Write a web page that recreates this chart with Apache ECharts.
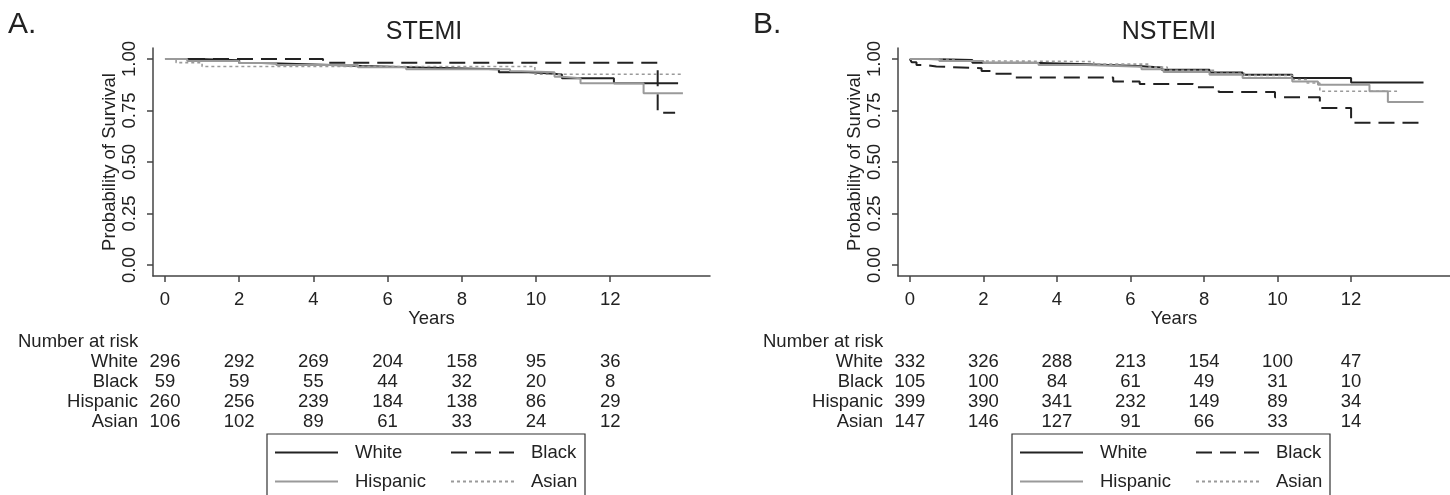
<!DOCTYPE html>
<html>
<head>
<meta charset="utf-8">
<script src="https://cdn.jsdelivr.net/npm/echarts@6/dist/echarts.min.js"></script>
<style>
  html, body { margin: 0; padding: 0; background: #fff; }
  #chart { width: 1450px; height: 495px; }
</style>
</head>
<body>
<div id="chart"></div>
<script>
// survival curves [years, probability]
var stemiWhite = [[0,1],[0.9,0.993],[2.0,0.98],[2.6,0.971],[4.5,0.966],[5.3,0.958],[6.9,0.95],[9.0,0.935],[9.8,0.93],[10.3,0.924],[10.7,0.906],[12.1,0.882],[13.83,0.882]];
var stemiBlack = [[0,1],[4.26,0.982],[13.28,0.739],[13.75,0.739]];
var stemiHispanic = [[0,1],[0.6,0.99],[2.0,0.98],[3.0,0.97],[5.2,0.96],[6.5,0.95],[9.3,0.94],[9.6,0.935],[10.5,0.914],[10.7,0.906],[11.2,0.882],[12.9,0.833],[13.96,0.833]];
var stemiAsian = [[0,1],[0.3,0.982],[1.0,0.963],[9.97,0.926],[13.96,0.926]];

var nstemiWhite = [[0,1],[0.5,0.995],[1.7,0.981],[3.3,0.974],[4.8,0.966],[6.2,0.958],[6.85,0.947],[8.15,0.934],[9.05,0.923],[10.4,0.907],[12.0,0.886],[13.97,0.886]];
var nstemiBlack = [[0,1],[0.05,0.984],[0.18,0.971],[0.4,0.963],[0.72,0.955],[1.95,0.942],[2.22,0.928],[2.8,0.91],[5.53,0.891],[6.25,0.878],[7.7,0.862],[8.4,0.839],[9.93,0.814],[11.15,0.762],[12.0,0.69],[13.93,0.69]];
var nstemiHispanic = [[0,1],[0.8,0.99],[2.0,0.98],[3.5,0.97],[4.8,0.962],[6.3,0.95],[6.9,0.936],[8.15,0.923],[9.05,0.907],[10.4,0.891],[11.1,0.875],[12.5,0.843],[13.0,0.791],[13.97,0.791]];
var nstemiAsian = [[0,1],[1.2,0.99],[2.6,0.987],[5.0,0.975],[6.5,0.96],[7.0,0.945],[8.3,0.93],[9.1,0.92],[10.4,0.9],[10.8,0.883],[11.15,0.843],[13.25,0.843]];

// number at risk
var riskYears = [0,2,4,6,8,10,12];
var groups = ['White','Black','Hispanic','Asian'];
var stemiRisk = [[296,292,269,204,158,95,36],[59,59,55,44,32,20,8],[260,256,239,184,138,86,29],[106,102,89,61,33,24,12]];
var nstemiRisk = [[332,326,288,213,154,100,47],[105,100,84,61,49,31,10],[399,390,341,232,149,89,34],[147,146,127,91,66,33,14]];

var xTicks = [0,2,4,6,8,10,12];
var yTicks = [0,0.25,0.5,0.75,1];
var panelTitles = ['STEMI','NSTEMI'];
var panelLetters = ['A.','B.'];

var FONT = 'Liberation Sans, Arial, sans-serif';
var FS = 18.5;
var INK = '#222';
var AXIS = '#444';
var GREY = '#9a9a9a';

var grids = [
  {left: 153, top: 48, width: 557, height: 228},
  {left: 898, top: 48, width: 557, height: 228}
];

var styles = {
  White: {color: INK, width: 2, type: 'solid'},
  Black: {color: INK, width: 2, type: [16, 8]},
  Hispanic: {color: GREY, width: 2, type: 'solid'},
  Asian: {color: GREY, width: 1.6, type: [3, 3]}
};

function makeX(i) {
  return {
    gridIndex: i, type: 'value', min: -0.323, max: 14.69,
    name: 'Years', nameLocation: 'middle', nameGap: 30,
    nameTextStyle: {fontFamily: FONT, fontSize: FS, color: INK},
    axisLine: {show: true, onZero: false, lineStyle: {color: AXIS, width: 1.5}},
    axisTick: {show: true, length: 6, customValues: xTicks, lineStyle: {color: AXIS, width: 1.5}},
    axisLabel: {customValues: xTicks, margin: 14, fontFamily: FONT, fontSize: FS, color: INK},
    splitLine: {show: false}
  };
}
function makeY(i) {
  return {
    gridIndex: i, type: 'value', min: -0.053, max: 1.053,
    name: 'Probability of Survival', nameLocation: 'middle', nameRotate: 90, nameGap: 32,
    nameTextStyle: {fontFamily: FONT, fontSize: FS, color: INK},
    axisLine: {show: true, onZero: false, lineStyle: {color: AXIS, width: 1.5}},
    axisTick: {show: true, length: 6, customValues: yTicks, lineStyle: {color: AXIS, width: 1.5}},
    axisLabel: {customValues: yTicks, rotate: 90, margin: 14, fontFamily: FONT, fontSize: FS, color: INK,
      formatter: function (v) { return v.toFixed(2); }},
    splitLine: {show: false}
  };
}

function curve(name, data, i) {
  var s = styles[name];
  return {
    name: name, type: 'line', step: 'end', xAxisIndex: i, yAxisIndex: i,
    symbol: 'none', data: data, color: s.color,
    lineStyle: {color: s.color, width: s.width, type: s.type},
    emphasis: {disabled: true}
  };
}

function makeLegend(i) {
  return {
    data: groups, left: grids[i].left + 121, top: 443, orient: 'horizontal',
    width: 345, padding: 0, itemWidth: 63, itemHeight: 14, itemGap: 10,
    selectedMode: false,
    itemStyle: {opacity: 0, borderWidth: 0},
    formatter: '{a|{name}}',
    textStyle: {fontFamily: FONT, fontSize: FS, color: INK, lineHeight: 14,
      rich: {a: {width: 85, padding: [0, 0, 0, 12], fontFamily: FONT, fontSize: FS, color: INK, lineHeight: 14}}}
  };
}

var chart = echarts.init(document.getElementById('chart'));
chart.setOption({
  animation: false,
  backgroundColor: '#fff',
  grid: grids,
  xAxis: [makeX(0), makeX(1)],
  yAxis: [makeY(0), makeY(1)],
  legend: [makeLegend(0), makeLegend(1)],
  series: [
    curve('White', stemiWhite, 0), curve('Black', stemiBlack, 0),
    curve('Hispanic', stemiHispanic, 0), curve('Asian', stemiAsian, 0),
    curve('White', nstemiWhite, 1), curve('Black', nstemiBlack, 1),
    curve('Hispanic', nstemiHispanic, 1), curve('Asian', nstemiAsian, 1)
  ]
});

// titles, risk table and legend frame
var g = [];
var risks = [stemiRisk, nstemiRisk];
function txt(text, x, y, size, align) {
  g.push({type: 'text', x: x, y: y, silent: true,
    style: {text: text, fill: INK, font: size + 'px ' + FONT, textAlign: align || 'center', textVerticalAlign: 'middle'}});
}
for (var p = 0; p < 2; p++) {
  var gl = grids[p].left;
  txt(panelLetters[p], gl - 145, 25, 30, 'left');
  txt(panelTitles[p], gl + 271, 32, 25);
  txt('Number at risk', gl - 135, 342, FS, 'left');
  for (var r = 0; r < groups.length; r++) {
    var y = 362 + r * 20;
    txt(groups[r], gl - 15, y, FS, 'right');
    for (var k = 0; k < riskYears.length; k++) {
      var px = chart.convertToPixel({xAxisIndex: p}, riskYears[k]);
      txt(String(risks[p][r][k]), px, y, FS);
    }
  }
  g.push({type: 'rect', silent: true, shape: {x: gl + 114, y: 434, width: 318, height: 80},
    style: {fill: 'none', stroke: '#333', lineWidth: 1.2}});
}
chart.setOption({graphic: g});
</script>
</body>
</html>
